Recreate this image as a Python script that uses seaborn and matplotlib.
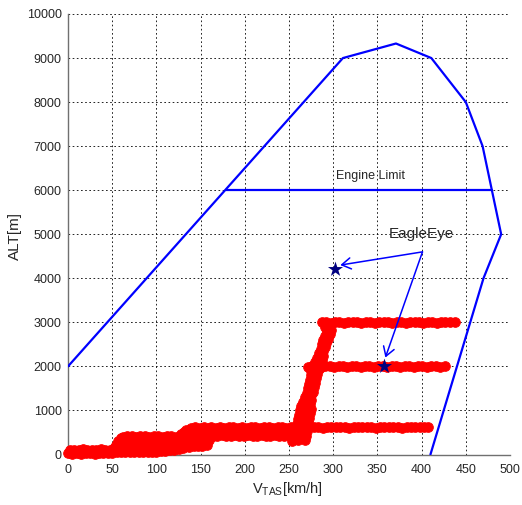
import numpy as np
import pandas as pd
import matplotlib
matplotlib.use("Agg")
import matplotlib.pyplot as plt
import seaborn as sns

sns.set_style("white")
plt.rcParams["font.family"] = ["Liberation Sans", "DejaVu Sans"]
plt.rcParams["mathtext.fontset"] = "custom"
plt.rcParams["mathtext.rm"] = "Liberation Sans"
plt.rcParams["mathtext.it"] = "Liberation Sans:italic"

# Flight envelope boundary (true airspeed km/h, altitude m)
env_v = [0, 311, 371, 411, 450, 469, 490, 470, 410]
env_alt = [2000, 9000, 9330, 9000, 8000, 7000, 5000, 4000, 0]

# Engine limit line
engine_v = [179, 479.5]
engine_alt = [6000, 6000]

# EagleEye test points
eagle_v = [302, 358]
eagle_alt = [4200, 2000]

# Recorded flight samples, by phase
taxi_v = [0, 2, 5, 7, 10, 12, 15, 17, 20, 22, 25, 27, 30, 32, 35, 37, 40, 42, 45, 47, 50, 52]
taxi_alt = [25, 105, 20, 110, 30, 100, 20, 115, 25, 105, 30, 110, 20, 100, 35, 115, 25, 105, 30, 110, 45, 140]

step1_v = [54, 57, 60, 62, 67, 72, 77, 82, 87, 92, 97, 102, 107, 112, 117, 122, 127, 132,
           56, 61, 66, 71, 76, 81, 86, 91, 96, 101, 106, 111, 116, 121, 126, 131,
           58, 63, 68, 73, 78, 83, 88, 93, 98, 103, 108, 113, 118, 123, 128,
           55, 60, 65, 70, 75, 80, 85, 90, 95, 100, 105, 110, 115, 120, 125, 130]
step1_alt = [220, 300, 370, 405, 410, 415, 405, 410, 412, 408, 415, 410, 405, 410, 415, 408, 412, 410,
             180, 290, 300, 295, 305, 290, 300, 310, 295, 300, 305, 290, 300, 310, 295, 300,
             150, 190, 185, 195, 180, 190, 200, 185, 190, 195, 180, 200, 190, 185, 195,
             60, 50, 55, 50, 60, 55, 50, 60, 55, 60, 70, 80, 95, 110, 125, 140]

step2_v = [128, 131, 134, 139, 144, 149, 154, 159,
           136, 141, 146, 151, 156, 160,
           135, 140, 145, 150, 155, 159,
           137, 142, 147, 152, 157]
step2_alt = [460, 520, 560, 610, 615, 612, 618, 610,
             470, 480, 475, 485, 470, 480,
             330, 345, 340, 335, 350, 340,
             170, 185, 195, 200, 210]

level_v = [162, 167, 172, 177, 182, 187, 192, 197, 202, 207, 212, 217, 222, 227, 232, 237, 242, 247, 252, 257,
           164, 169, 174, 179, 184, 189, 194, 199, 204, 209, 214, 219, 224, 229, 234, 239, 244, 249, 254]
level_alt = [615, 610, 618, 612, 615, 620, 610, 615, 612, 618, 615, 610, 620, 615, 612, 618, 615, 610, 615, 620,
             430, 425, 435, 430, 428, 432, 430, 425, 435, 430, 428, 432, 430, 425, 435, 430, 428, 432, 430]

climb_v = [253, 268, 254, 269, 256, 270, 257, 271, 259, 272, 260, 273, 261, 274, 262, 275,
           264, 274, 266, 275, 268, 275, 270, 277, 271, 278, 273, 279, 274, 280, 275, 282,
           275, 284, 276, 286, 279, 287, 282, 288, 284, 289, 286, 291, 287, 292, 289, 294,
           291, 296, 293, 297, 291, 296,
           260, 262, 263, 264, 265, 266, 267, 268, 269, 270]
climb_alt = [300, 340, 400, 430, 500, 540, 600, 630, 700, 740, 800, 830, 900, 940, 1000, 1030,
             1100, 1140, 1200, 1230, 1300, 1340, 1400, 1430, 1500, 1540, 1600, 1630, 1700, 1740, 1800, 1830,
             1900, 1940, 2000, 2030, 2100, 2140, 2200, 2230, 2300, 2340, 2400, 2430, 2500, 2540, 2600, 2630,
             2700, 2740, 2800, 2830, 2900, 2940,
             320, 420, 520, 620, 720, 820, 920, 1020, 1120, 1220]

cruise600_v = [258, 263, 268, 273, 278, 283, 288, 293, 298, 303, 308, 313, 318, 323, 328, 333,
               338, 343, 348, 353, 358, 363, 368, 373, 378, 383, 388, 393, 398, 403, 407]
cruise600_alt = [612, 618, 615, 620, 614, 616, 612, 618, 615, 620, 614, 616, 612, 618, 615, 620,
                 614, 616, 612, 618, 615, 620, 614, 616, 612, 618, 615, 620, 614, 616, 615]

cruise2000_v = [271, 276, 281, 286, 291, 296, 301, 306, 311, 316, 321, 326, 331, 336, 341, 346,
                351, 356, 361, 366, 371, 376, 381, 386, 391, 396, 401, 406, 411, 416, 421, 427]
cruise2000_alt = [1990, 2005, 2000, 1995, 2010, 2000, 1995, 2005, 2000, 1990, 2005, 2000, 1995, 2010, 2000, 1995,
                  2005, 2000, 1990, 2005, 2000, 1995, 2010, 2000, 1995, 2005, 2000, 1990, 2005, 2000, 1995, 2000]

cruise3000_v = [287, 292, 297, 302, 307, 312, 317, 322, 327, 332, 337, 342, 347, 352, 357, 362,
                367, 372, 377, 382, 387, 392, 397, 402, 407, 412, 417, 422, 427, 432, 438]
cruise3000_alt = [3000, 3010, 2995, 3005, 3000, 2990, 3005, 3000, 3010, 2995, 3005, 3000, 2990, 3005, 3000, 3010,
                  2995, 3005, 3000, 2990, 3005, 3000, 3010, 2995, 3005, 3000, 2990, 3005, 3000, 3010, 3000]

flight = pd.DataFrame({
    "v": np.concatenate([taxi_v, step1_v, step2_v, level_v, climb_v,
                         cruise600_v, cruise2000_v, cruise3000_v]),
    "alt": np.concatenate([taxi_alt, step1_alt, step2_alt, level_alt, climb_alt,
                           cruise600_alt, cruise2000_alt, cruise3000_alt]),
})

fig = plt.figure(figsize=(5.22, 5.05), dpi=100)
ax = fig.add_axes([68 / 522, 50.5 / 505, 442 / 522, 440.5 / 505])

sns.scatterplot(data=flight, x="v", y="alt", ax=ax, color="red", s=48,
                edgecolor="red", linewidth=0.7, marker="o", clip_on=False, zorder=3)

sns.lineplot(x=env_v, y=env_alt, sort=False, estimator=None, ax=ax,
             color="blue", linewidth=1.6, zorder=4)
sns.lineplot(x=engine_v, y=engine_alt, sort=False, estimator=None, ax=ax,
             color="blue", linewidth=1.6, zorder=4)

# Arrows from the label to the two test points
arrow_props = dict(arrowstyle="->,head_length=0.65,head_width=0.4", color="blue",
                   lw=1.1, shrinkA=0, shrinkB=0)
ax.annotate("", xy=(308, 4300), xytext=(401, 4600), arrowprops=arrow_props, zorder=5)
ax.annotate("", xy=(359, 2200), xytext=(401, 4600), arrowprops=arrow_props, zorder=5)

sns.scatterplot(x=eagle_v, y=eagle_alt, ax=ax, marker="*", s=130,
                color="#000080", linewidth=0, zorder=6)

ax.text(342, 6320, "Engine Limit", ha="center", va="center", fontsize=9)
ax.text(400, 4910, "EagleEye", ha="center", va="baseline", fontsize=11)

ax.set_xlim(0, 500)
ax.set_ylim(0, 10000)
ax.set_xticks(np.arange(0, 501, 50))
ax.set_yticks(np.arange(0, 10001, 1000))
ax.grid(True, color="black", linestyle=(0, (2, 3)), linewidth=0.6)
ax.set_axisbelow(True)

for side in ("top", "right"):
    ax.spines[side].set_visible(False)
for side in ("left", "bottom"):
    ax.spines[side].set_color("#707070")
    ax.spines[side].set_linewidth(1.0)

ax.tick_params(axis="both", labelsize=9, direction="out", length=2.5,
               color="#707070", pad=2)
ax.tick_params(axis="x", pad=4)

ax.set_xlabel("")
ax.set_ylabel("")
fig.text(287.5 / 522, 1 - 489 / 505, r"V$_{\mathrm{TAS}}$[km/h]", ha="center",
         va="center", fontsize=10.5)
fig.text(15 / 522, 1 - 236.5 / 505, "ALT[m]", rotation=90, ha="center",
         va="center", fontsize=11)

fig.savefig("out.png", dpi=100)
